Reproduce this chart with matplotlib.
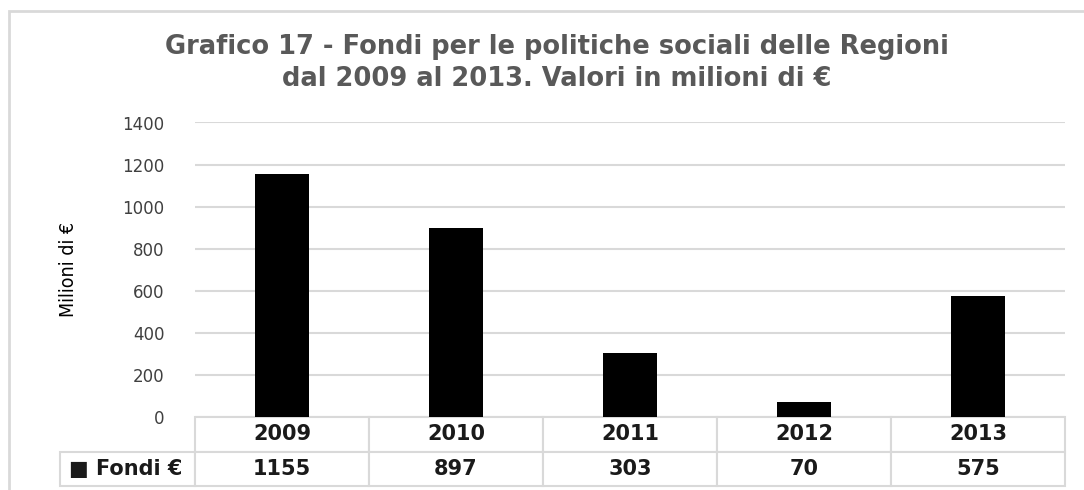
import matplotlib
matplotlib.use("Agg")
import matplotlib.pyplot as plt
import matplotlib.patches as mpatches
import numpy as np

years = ["2009", "2010", "2011", "2012", "2013"]
fondi = [1155, 897, 303, 70, 575]
series_label = "Fondi €"
title = "Grafico 17 - Fondi per le politiche sociali delle Regioni\ndal 2009 al 2013. Valori in milioni di €"
ylabel = "Milioni di €"
yticks = [0, 200, 400, 600, 800, 1000, 1200, 1400]

W, H = 1084, 490
grid_c = "#d9d9d9"

fig = plt.figure(figsize=(W / 100, H / 100), dpi=100)
ax = fig.add_axes([195 / W, (H - 417) / H, 870 / W, 294.5 / H])

x = np.arange(len(years))
ax.bar(x, fondi, width=0.305, color="black", zorder=3)
ax.set_xlim(-0.5, len(years) - 0.5)
ax.set_ylim(0, 1400)
ax.set_yticks(yticks)
ax.set_yticklabels([str(v) for v in yticks], fontsize=12, color="#404040")
ax.tick_params(axis="y", length=0, pad=22)
ax.set_xticks([])
ax.grid(axis="y", color=grid_c, linewidth=1.5, zorder=0)
for s in ax.spines.values():
    s.set_visible(False)

# data table under the chart
lab_w = 135 / 870
cells = [[""] + years, ["\u25a0 " + series_label] + [str(v) for v in fondi]]
tab = ax.table(cellText=cells, colWidths=[lab_w] + [1 / 5] * 5,
               cellLoc="center", bbox=[-lab_w, -69 / 294.5, 1 + lab_w, 69 / 294.5])
tab.auto_set_font_size(False)
for (r, c), cell in tab.get_celld().items():
    cell.set_edgecolor(grid_c)
    cell.set_linewidth(1.5)
    cell.get_text().set_fontsize(15)
    cell.get_text().set_fontweight("bold")
    cell.get_text().set_color("#1a1a1a")
    if r == 0 and c == 0:
        cell.visible_edges = "open"
        cell.set_facecolor("none")
    if r == 1 and c == 0:
        cell.get_text().set_ha("left")
        cell._loc = "left"
        cell.PAD = 0.07

fig.text(557 / W, 1 - 63 / H, title, ha="center", va="center", fontsize=18.5,
         fontweight="bold", color="#595959", linespacing=1.35)
fig.text(69 / W, 1 - 269 / H, ylabel, rotation=90, ha="center", va="center",
         fontsize=14, fontstretch="condensed", color="black")

# chart area border
fig.patches.append(mpatches.Rectangle((9 / W, -0.2), 1.2, 1.2 + (H - 11) / H - 1 + 0.0,
                                      transform=fig.transFigure, fill=False,
                                      edgecolor=grid_c, linewidth=2))

fig.savefig("out.png", dpi=100)
